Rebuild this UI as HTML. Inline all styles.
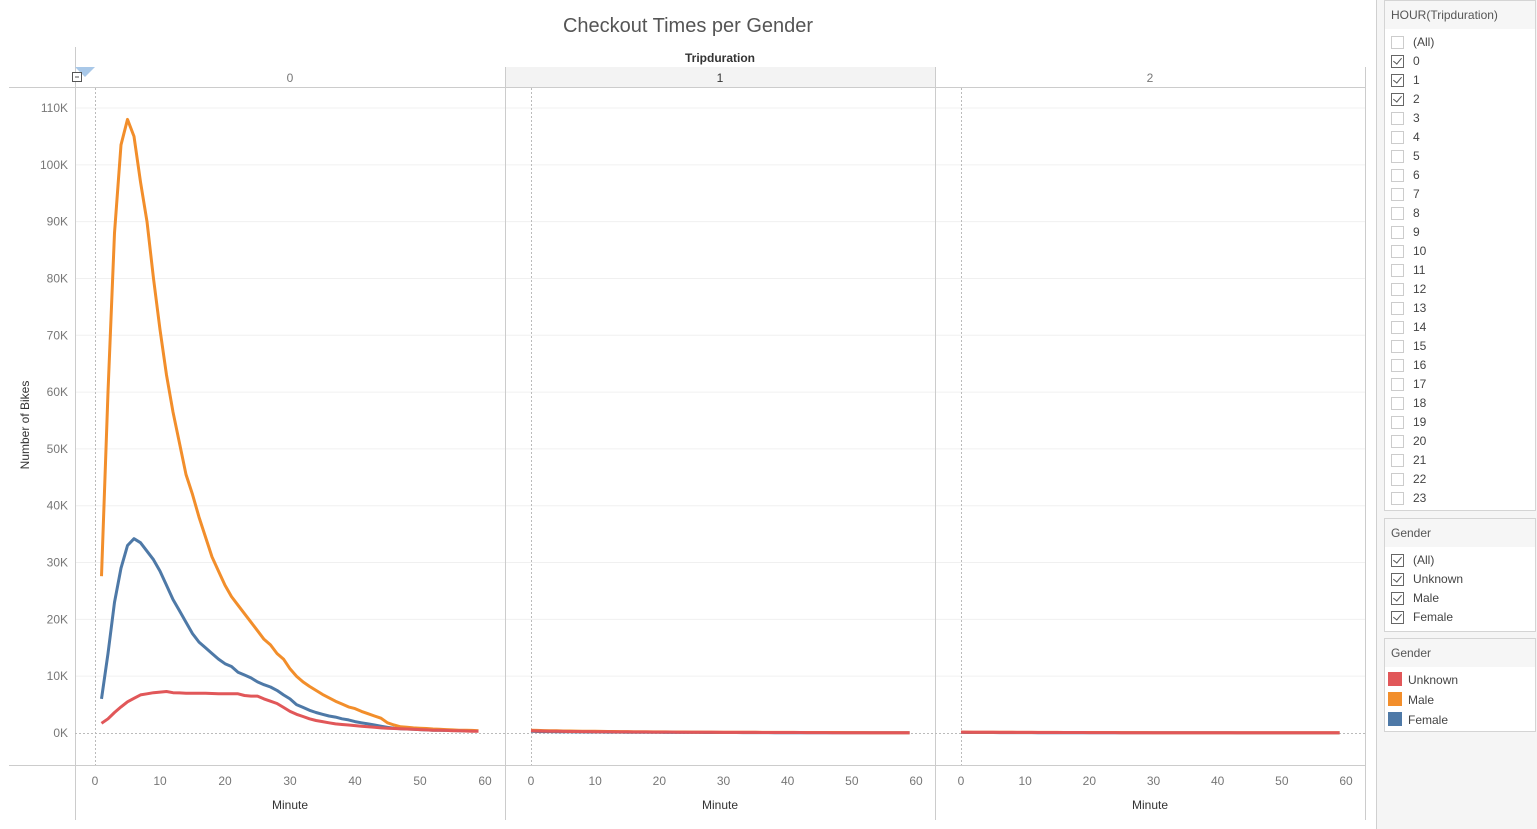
<!DOCTYPE html>
<html><head><meta charset="utf-8">
<style>
html,body{margin:0;padding:0;background:#fff;width:1537px;height:829px;overflow:hidden;font-family:"Liberation Sans",sans-serif;}
#side{position:absolute;left:1376px;top:0;width:161px;height:829px;background:#f5f5f5;border-left:1px solid #d0d0d0;}
.card{position:absolute;left:7px;width:152px;background:#fff;border:1px solid #d4d4d4;box-sizing:border-box;}
.card .hd{height:28px;background:#f6f6f6;font-size:12px;color:#555;padding:7px 0 0 6px;box-sizing:border-box;}
.item{position:relative;height:19px;font-size:12px;color:#444;}
.cb{position:absolute;left:6px;top:3px;width:13px;height:13px;border:1px solid #ccc;box-sizing:border-box;background:#fff;}
.cb.on{border-color:#666;}
.cb.on:after{content:"";position:absolute;left:3px;top:0px;width:4px;height:7px;border:solid #555;border-width:0 1.5px 1.5px 0;transform:rotate(40deg);}
.item span.t{position:absolute;left:28px;top:2px;}
.sw{position:absolute;left:3px;top:3px;width:14px;height:14px;}
.item span.lt{position:absolute;left:23px;top:4px;}
</style></head><body>
<svg id="chart" width="1376" height="829" style="position:absolute;left:0;top:0">
<text x="688" y="32" text-anchor="middle" font-size="20" fill="#555">Checkout Times per Gender</text>
<text x="720" y="62" text-anchor="middle" font-size="12" font-weight="bold" fill="#333">Tripduration</text>
<rect x="505" y="67" width="430" height="20" fill="#f3f3f3"/>
<g id="g"></g>
</svg>
<div id="side">
 <div class="card" style="top:0;height:511px"><div class="hd">HOUR(Tripduration)</div><div id="hours" style="padding-top:4px"></div></div>
 <div class="card" style="top:518px;height:114px"><div class="hd">Gender</div><div id="genders" style="padding-top:4px"></div></div>
 <div class="card" style="top:638px;height:94px"><div class="hd">Gender</div><div id="legend" style="padding-top:2px"></div></div>
</div>
<script>
const panels=["0","1","2"];
const startMinute=[1,0,0];
const yTicks=[0,10,20,30,40,50,60,70,80,90,100,110];
const xTicks=[0,10,20,30,40,50,60];
const male0=[27.6,60,88,103.5,108,105,97,90,80,71,63,56.5,51,45.5,42,38,34.5,31,28.5,26,24,22.5,21,19.5,18,16.5,15.5,14,13,11.3,10,9,8.2,7.5,6.8,6.2,5.6,5.1,4.6,4.3,3.8,3.4,3.0,2.6,1.8,1.4,1.1,1.0,0.9,0.85,0.8,0.7,0.65,0.6,0.55,0.5,0.5,0.45,0.4];
const female0=[6,14,23,29,33,34.2,33.5,32,30.5,28.5,26,23.5,21.5,19.5,17.5,16,15,14,13,12.2,11.7,10.7,10.2,9.7,9,8.5,8.1,7.5,6.7,6,5,4.5,4,3.6,3.3,3.0,2.8,2.5,2.3,2.0,1.8,1.6,1.4,1.2,1.0,0.85,0.75,0.7,0.65,0.6,0.55,0.5,0.5,0.45,0.45,0.4,0.4,0.35,0.35];
const unknown0=[1.7,2.5,3.6,4.6,5.5,6.1,6.7,6.9,7.1,7.2,7.3,7.1,7.05,7.0,7.0,7.0,7.0,6.95,6.9,6.9,6.9,6.9,6.6,6.5,6.5,6.0,5.6,5.2,4.5,3.8,3.3,2.9,2.5,2.2,2.0,1.8,1.6,1.5,1.4,1.3,1.2,1.1,1.0,0.9,0.85,0.8,0.75,0.7,0.65,0.6,0.55,0.5,0.5,0.45,0.4,0.4,0.35,0.3,0.3];
const male1=[0.5,0.45,0.42,0.4,0.38,0.36,0.35,0.33,0.32,0.3,0.3,0.28,0.27,0.26,0.25,0.24,0.23,0.22,0.21,0.2,0.2,0.19,0.18,0.18,0.17,0.16,0.16,0.15,0.15,0.14,0.14,0.13,0.13,0.12,0.12,0.12,0.11,0.11,0.1,0.1,0.1,0.1,0.09,0.09,0.09,0.08,0.08,0.08,0.08,0.07,0.07,0.07,0.07,0.06,0.06,0.06,0.06,0.06,0.05,0.05];
const female1=[0.3,0.27,0.25,0.24,0.23,0.22,0.21,0.2,0.19,0.18,0.18,0.17,0.16,0.16,0.15,0.14,0.14,0.13,0.13,0.12,0.12,0.11,0.11,0.11,0.1,0.1,0.1,0.09,0.09,0.08,0.08,0.08,0.08,0.07,0.07,0.07,0.07,0.07,0.06,0.06,0.06,0.06,0.05,0.05,0.05,0.05,0.05,0.05,0.05,0.04,0.04,0.04,0.04,0.04,0.04,0.04,0.04,0.04,0.03,0.03];
const unknown1=[0.38,0.35,0.33,0.31,0.3,0.28,0.27,0.26,0.25,0.24,0.23,0.22,0.21,0.2,0.2,0.19,0.18,0.18,0.17,0.16,0.16,0.15,0.15,0.14,0.14,0.13,0.13,0.12,0.12,0.12,0.11,0.11,0.1,0.1,0.1,0.1,0.09,0.09,0.09,0.08,0.08,0.08,0.08,0.07,0.07,0.07,0.07,0.06,0.06,0.06,0.06,0.05,0.05,0.05,0.05,0.05,0.04,0.04,0.04,0.04];
const male2=[0.16,0.15,0.14,0.14,0.13,0.13,0.12,0.12,0.12,0.11,0.11,0.11,0.1,0.1,0.1,0.1,0.09,0.09,0.09,0.09,0.08,0.08,0.08,0.08,0.08,0.07,0.07,0.07,0.07,0.07,0.06,0.06,0.06,0.06,0.06,0.06,0.05,0.05,0.05,0.05,0.05,0.05,0.05,0.04,0.04,0.04,0.04,0.04,0.04,0.04,0.04,0.03,0.03,0.03,0.03,0.03,0.03,0.03,0.03,0.03];
const female2=[0.1,0.09,0.08,0.08,0.08,0.08,0.07,0.07,0.07,0.07,0.07,0.07,0.06,0.06,0.06,0.06,0.05,0.05,0.05,0.05,0.05,0.05,0.05,0.05,0.05,0.04,0.04,0.04,0.04,0.04,0.04,0.04,0.04,0.04,0.04,0.04,0.03,0.03,0.03,0.03,0.03,0.03,0.03,0.02,0.02,0.02,0.02,0.02,0.02,0.02,0.02,0.02,0.02,0.02,0.02,0.02,0.02,0.02,0.02,0.02];
const unknown2=[0.15,0.14,0.13,0.13,0.12,0.12,0.11,0.11,0.11,0.1,0.1,0.1,0.09,0.09,0.09,0.09,0.08,0.08,0.08,0.08,0.07,0.07,0.07,0.07,0.07,0.06,0.06,0.06,0.06,0.06,0.05,0.05,0.05,0.05,0.05,0.05,0.05,0.05,0.05,0.05,0.05,0.05,0.05,0.04,0.04,0.04,0.04,0.04,0.04,0.04,0.04,0.03,0.03,0.03,0.03,0.03,0.03,0.03,0.03,0.03];
const seriesByPanel=[[female0,male0,unknown0],[female1,male1,unknown1],[female2,male2,unknown2]];
const seriesNames=["female","male","unknown"];
const colors=["#4e79a7","#f28e2b","#e15759"];
const NS="http://www.w3.org/2000/svg";
const g=document.getElementById('g');
function mk(tag,attrs,parent){const e=document.createElementNS(NS,tag);for(const k in attrs)e.setAttribute(k,attrs[k]);(parent||g).appendChild(e);return e;}
const panelX=[75,505,935], xRange=[0,60];
function xScale(p,v){const off=(p==0?20:26);const pw=(p==0?390:385);return panelX[p]+off+(v-xRange[0])/(xRange[1]-xRange[0])*pw;}
function yScale(v){return 733-v*(625/110);}
yTicks.forEach(t=>{if(t>0){const l=mk('line',{x1:75,x2:1365,y1:yScale(t),y2:yScale(t),stroke:'#f0f0f0','stroke-width':1});

}
const tx=mk('text',{x:68,y:yScale(t)+4,'text-anchor':'end','font-size':12,fill:'#777'});tx.textContent=t+'K';

});
mk('line',{x1:9,x2:1365,y1:87.5,y2:87.5,stroke:'#ccc'});
mk('line',{x1:9,x2:1365,y1:765.5,y2:765.5,stroke:'#ccc'});
[75.5,505.5,935.5,1365.5].forEach((x,i)=>mk('line',{x1:x,x2:x,y1:i==0?47:67,y2:820,stroke:'#ccc'}));
mk('line',{x1:75,x2:1365,y1:733.5,y2:733.5,stroke:'#bbb','stroke-dasharray':'2,2'});
const yl=mk('text',{x:0,y:0,transform:'translate(29,425) rotate(-90)','text-anchor':'middle','font-size':12,fill:'#333'});yl.textContent='Number of Bikes';


mk('path',{d:'M75 67 L95 67 L85 77 Z',fill:'#a9c8e8'});
mk('rect',{x:72.5,y:72.5,width:9,height:9,fill:'#fff',stroke:'#555'});
mk('line',{x1:75,x2:79,y1:77,y2:77,stroke:'#555'});
panels.forEach((p,pi)=>{
 const h=mk('text',{x:panelX[pi]+215,y:82,'text-anchor':'middle','font-size':12,fill:pi==1?'#333':'#777'});h.textContent=p;
 
 
 mk('line',{x1:Math.round(xScale(pi,0))+0.5,x2:Math.round(xScale(pi,0))+0.5,y1:88,y2:765,stroke:'#bbb','stroke-dasharray':'2,2'});
 xTicks.forEach(t=>{const tx=mk('text',{x:xScale(pi,t),y:785,'text-anchor':'middle','font-size':12,fill:'#777'});tx.textContent=t;
  
  });
 const mt=mk('text',{x:panelX[pi]+215,y:809,'text-anchor':'middle','font-size':12,fill:'#333'});mt.textContent='Minute';
 
 
 seriesByPanel[pi].forEach((arr,si)=>{
  const d=arr.map((v,i)=>(i?'L':'M')+xScale(pi,i+startMinute[pi]).toFixed(1)+' '+yScale(v).toFixed(1)).join(' ');
  const path=mk('path',{d:d,fill:'none',stroke:colors[si],'stroke-width':3,'stroke-linejoin':'round'});
  
  
 });
});
const hours=["(All)"];for(let i=0;i<24;i++)hours.push(String(i));
const hoursOn=["0","1","2"];
const hb=document.getElementById('hours');
hours.forEach(h=>{const d=document.createElement('div');d.className='item';
 
 
 d.innerHTML='<div class="cb'+(hoursOn.includes(h)?' on':'')+'"></div><span class="t">'+h+'</span>';hb.appendChild(d);});
const genders=["(All)","Unknown","Male","Female"];
const gb=document.getElementById('genders');
genders.forEach(h=>{const d=document.createElement('div');d.className='item';
 
 
 d.innerHTML='<div class="cb on"></div><span class="t">'+h+'</span>';gb.appendChild(d);});
const legendNames=["Unknown","Male","Female"], legendColors=["#e15759","#f28e2b","#4e79a7"];
const lb=document.getElementById('legend');
legendNames.forEach((n,i)=>{const d=document.createElement('div');d.className='item';d.style.height='20px';
 
 
 d.innerHTML='<div class="sw" style="background:'+legendColors[i]+'"></div><span class="lt">'+n+'</span>';lb.appendChild(d);});
</script>
</body></html>
